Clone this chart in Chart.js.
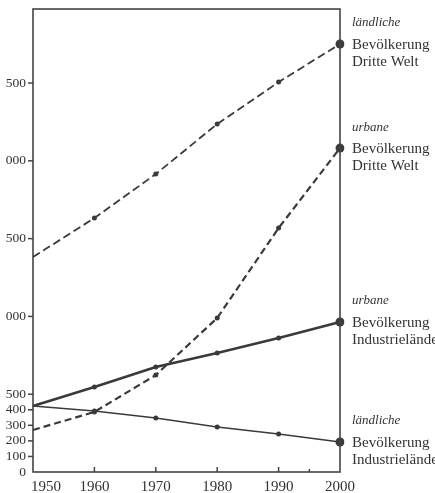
<!DOCTYPE html>
<html><head><meta charset="utf-8">
<script src="https://cdn.jsdelivr.net/npm/chart.js@4.4.0/dist/chart.umd.min.js"></script>
<style>
html,body{margin:0;padding:0;background:#fff;overflow:hidden;width:435px;height:493px;}
#clip{position:absolute;left:6px;top:0;width:429px;height:493px;overflow:hidden;}
#wrap{position:absolute;left:-13px;top:0;width:442px;height:493px;}
</style></head><body>
<div id="clip"><div id="wrap"><canvas id="c"></canvas></div></div>
<script>
const years = ['1950','1960','1970','1980','1990','2000'];
const ruralThirdWorld = [1382,1632,1915,2237,2506,2751];
const urbanThirdWorld = [270,386,623,990,1568,2082];
const urbanIndustrial = [424,546,675,765,861,964];
const ruralIndustrial = [424,392,347,289,244,193];
const yTickValues = [0,100,200,300,400,500,1000,1500,2000,2500];
const seriesLabels = [
  ['ländliche','Bevölkerung','Dritte Welt'],
  ['urbane','Bevölkerung','Dritte Welt'],
  ['urbane','Bevölkerung','Industrieländer'],
  ['ländliche','Bevölkerung','Industrieländer']
];

const INK = '#3a3a3a';
const radii = [0,2.5,2.5,2.5,2.5,4.5];
function ds(data, width, dash){
  return {data, borderColor:INK, borderWidth:width, borderDash:dash, tension:0,
    pointRadius:radii, pointBackgroundColor:INK, pointBorderColor:INK, pointBorderWidth:0, fill:false};
}

const decor = {
  id:'decor',
  afterDraw(chart){
    const ctx = chart.ctx, a = chart.chartArea, xs = chart.scales.x, ys = chart.scales.y;
    ctx.save();
    ctx.strokeStyle = '#444'; ctx.lineWidth = 1.6;
    ctx.strokeRect(a.left, a.top, a.right - a.left, a.bottom - a.top);
    ctx.lineWidth = 1.5;
    yTickValues.forEach(v => {
      if (v === 0) return;
      const py = ys.getPixelForValue(v);
      ctx.beginPath(); ctx.moveTo(a.left - 5, py); ctx.lineTo(a.left, py); ctx.stroke();
    });
    for (let i = 1; i < years.length - 1; i++) {
      const px = xs.getPixelForValue(i);
      ctx.beginPath(); ctx.moveTo(px, a.bottom); ctx.lineTo(px, a.bottom - 5); ctx.stroke();
    }
    const p95 = (xs.getPixelForValue(4) + xs.getPixelForValue(5)) / 2;
    ctx.beginPath(); ctx.moveTo(p95, a.bottom); ctx.lineTo(p95, a.bottom - 3); ctx.stroke();
    ctx.fillStyle = '#333';
    ctx.font = '15px "Liberation Serif", serif';
    ctx.textBaseline = 'middle';
    years.forEach((y, i) => {
      const px = xs.getPixelForValue(i);
      if (i === 0) { ctx.textAlign = 'left'; ctx.fillText(y, px - 2, a.bottom + 15); }
      else { ctx.textAlign = 'center'; ctx.fillText(y, px, a.bottom + 15); }
    });
    ctx.textAlign = 'left';
    chart.data.datasets.forEach((d, k) => {
      const meta = chart.getDatasetMeta(k);
      const pt = meta.data[meta.data.length - 1];
      const yy = pt.y + 1;
      const x0 = a.right + 12;
      const L = seriesLabels[k];
      ctx.font = 'italic 13px "Liberation Serif", serif';
      ctx.fillText(L[0], x0, yy - 22);
      ctx.font = '15px "Liberation Serif", serif';
      ctx.fillText(L[1], x0, yy);
      ctx.fillText(L[2], x0, yy + 17);
    });
    ctx.restore();
  }
};

new Chart(document.getElementById('c'), {
  type:'line',
  data:{
    labels: years,
    datasets:[
      ds(ruralThirdWorld, 1.8, [8,4]),
      ds(urbanThirdWorld, 2.2, [7,4]),
      ds(urbanIndustrial, 2.6, []),
      ds(ruralIndustrial, 1.6, [])
    ]
  },
  options:{
    responsive:true, maintainAspectRatio:false, animation:false,
    layout:{padding:{top:9, right:95, bottom:21, left:0}},
    plugins:{legend:{display:false}, tooltip:{enabled:false}},
    scales:{
      x:{display:false, offset:false},
      y:{
        min:0, max:2976,
        afterFit(s){ s.width = 40; s.paddingTop = 0; s.paddingBottom = 0; },
        afterBuildTicks(s){ s.ticks = yTickValues.map(v => ({value:v})); },
        border:{display:false},
        grid:{drawOnChartArea:false, drawTicks:false},
        ticks:{autoSkip:false, padding:7, color:'#333',
          callback:(v) => String(v),
          font:{family:'"Liberation Serif", serif', size:13.5}}
      }
    }
  },
  plugins:[decor]
});
</script>
</body></html>
